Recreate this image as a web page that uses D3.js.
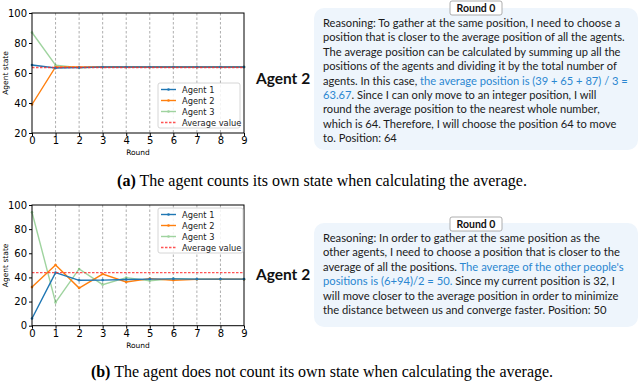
<!DOCTYPE html>
<html lang="en">
<head>
<meta charset="UTF-8">
<script src="https://d3js.org/d3.v7.min.js"></script>
<style>
  body { margin: 0; background: #fff; }
</style>
</head>
<body>
<svg id="svg" width="640" height="383" font-family="DejaVu Sans"></svg>
<script>
// ---- data ----
var rounds = [0, 1, 2, 3, 4, 5, 6, 7, 8, 9];

// (a) agent counts its own state
var topAgent1 = [65.3, 63.3, 63.6, 64, 64, 64, 64, 64, 64, 64];
var topAgent2 = [39, 64, 64, 64, 64, 64, 64, 64, 64, 64];
var topAgent3 = [87, 65.2, 63.5, 64, 64, 64, 64, 64, 64, 64];
var topAverage = 63.67;
var topYTicks = [20, 40, 60, 80, 100];

// (b) agent does not count its own state
var botAgent1 = [6, 44, 37.6, 37.8, 38.3, 38.6, 38.8, 38.6, 38.6, 38.6];
var botAgent2 = [32, 50.3, 31.2, 42.8, 36.2, 39, 37.7, 38.4, 38.5, 38.5];
var botAgent3 = [94, 19.3, 47, 34, 39.8, 37.2, 39, 38.5, 38.5, 38.5];
var botAverage = 44;
var botYTicks = [0, 20, 40, 60, 80, 100];

var agentNames = ["Agent 1", "Agent 2", "Agent 3"];
var agentColors = ["#1f77b4", "#ff7f0e", "#2ca02c"];
var agentOpacity = [1, 1, 0.45];

var topText = [
  [["Reasoning: To gather at the same position, I need to choose a", 0]],
  [["position that is closer to the average position of all the agents.", 0]],
  [["The average position can be calculated by summing up all the", 0]],
  [["positions of the agents and dividing it by the total number of", 0]],
  [["agents. In this case, ", 0], ["the average position is (39 + 65 + 87) / 3 =", 1]],
  [["63.67", 1], [". Since I can only move to an integer position, I will", 0]],
  [["round the average position to the nearest whole number,", 0]],
  [["which is 64. Therefore, I will choose the position 64 to move", 0]],
  [["to. Position: 64", 0]]
];
var botText = [
  [["Reasoning: In order to gather at the same position as the", 0]],
  [["other agents, I need to choose a position that is closer to the", 0]],
  [["average of all the positions. ", 0], ["The average of the other people's", 1]],
  [["positions is (6+94)/2 = 50.", 1], [" Since my current position is 32, I", 0]],
  [["will move closer to the average position in order to minimize", 0]],
  [["the distance between us and converge faster. Position: 50", 0]]
];

var svg = d3.select("#svg");

function drawChart(cfg) {
  var x = d3.scaleLinear().domain([0, 9]).range([32, 244]);
  var y = d3.scaleLinear().domain(cfg.yDomain).range([cfg.bottom, cfg.top]);
  var g = svg.append("g");

  // vertical dashed grid
  g.selectAll(".grid").data(rounds.slice(1, 9)).enter().append("line")
    .attr("x1", d => x(d)).attr("x2", d => x(d))
    .attr("y1", cfg.top).attr("y2", cfg.bottom)
    .attr("stroke", "#999").attr("stroke-width", 0.8)
    .attr("stroke-dasharray", "2.5,2");

  var series = [cfg.a1, cfg.a2, cfg.a3];
  var line = d3.line().x((d, i) => x(rounds[i])).y(d => y(d));

  [2, 1, 0].forEach(function (k) {
    var s = g.append("g").attr("opacity", agentOpacity[k]);
    s.append("path").datum(series[k])
      .attr("d", line).attr("fill", "none")
      .attr("stroke", agentColors[k]).attr("stroke-width", 1.4);
    s.selectAll("circle").data(series[k]).enter().append("circle")
      .attr("cx", (d, i) => x(rounds[i])).attr("cy", d => y(d))
      .attr("r", 1.3).attr("fill", agentColors[k]);
  });

  // average line, drawn over the agents
  g.append("line")
    .attr("x1", x(0)).attr("x2", x(9))
    .attr("y1", y(cfg.avg)).attr("y2", y(cfg.avg))
    .attr("stroke", "#ff2a2a").attr("stroke-width", 1.3)
    .attr("stroke-dasharray", "2.5,1.5").attr("opacity", 0.8);

  // frame
  g.append("rect").attr("x", 32).attr("y", cfg.top)
    .attr("width", 212).attr("height", cfg.bottom - cfg.top)
    .attr("fill", "none").attr("stroke", "#000").attr("stroke-width", 1);

  var xAxis = d3.axisBottom(x).tickValues(rounds).tickSize(3).tickPadding(1);
  g.append("g").attr("transform", "translate(0," + cfg.bottom + ")").call(xAxis)
    .call(a => a.select(".domain").remove())
    .selectAll("text").attr("font-size", 10).attr("fill", "#000")
    .attr("font-family", "DejaVu Sans");
  var yAxis = d3.axisLeft(y).tickValues(cfg.yTicks).tickSize(3).tickPadding(2);
  g.append("g").attr("transform", "translate(32,0)").call(yAxis)
    .call(a => a.select(".domain").remove())
    .selectAll("text").attr("font-size", 10).attr("fill", "#000")
    .attr("font-family", "DejaVu Sans");

  g.append("text").attr("x", 138).attr("y", cfg.bottom + 22)
    .attr("text-anchor", "middle").attr("font-size", 7.5).text("Round");
  g.append("text")
    .attr("transform", "translate(8," + ((cfg.top + cfg.bottom) / 2) + ") rotate(-90)")
    .attr("text-anchor", "middle").attr("font-size", 7.5).text("Agent state");

  // legend
  var lg = g.append("g").attr("transform", "translate(" + cfg.legX + "," + cfg.legY + ")");
  lg.append("rect").attr("x", 0).attr("y", 0).attr("width", cfg.legW).attr("height", 45)
    .attr("rx", 2).attr("fill", "#fff").attr("fill-opacity", 0.85)
    .attr("stroke", "#ccc").attr("stroke-width", 0.8);
  agentNames.concat(["Average value"]).forEach(function (name, i) {
    var yy = 6.5 + i * 11;
    if (i < 3) {
      var e = lg.append("g").attr("opacity", agentOpacity[i]);
      e.append("line").attr("x1", 3).attr("x2", 18).attr("y1", yy).attr("y2", yy)
        .attr("stroke", agentColors[i]).attr("stroke-width", 1.4);
      e.append("circle").attr("cx", 10.5).attr("cy", yy).attr("r", 1.3).attr("fill", agentColors[i]);
    } else {
      lg.append("line").attr("x1", 3).attr("x2", 18).attr("y1", yy).attr("y2", yy)
        .attr("stroke", "#ff2a2a").attr("stroke-width", 1.3)
        .attr("stroke-dasharray", "2.5,1.5").attr("opacity", 0.8);
    }
    lg.append("text").attr("x", 24).attr("y", yy + 3).attr("font-size", 8.3)
      .attr("fill", "#222").text(name);
  });
}

drawChart({ top: 13, bottom: 133, yDomain: [20, 100], yTicks: topYTicks,
  a1: topAgent1, a2: topAgent2, a3: topAgent3, avg: topAverage, legX: 158, legY: 83, legW: 82 });
drawChart({ top: 205, bottom: 325.7, yDomain: [0, 100], yTicks: botYTicks,
  a1: botAgent1, a2: botAgent2, a3: botAgent3, avg: botAverage, legX: 158, legY: 208, legW: 85 });

function drawBubble(lines, boxY, boxH, roundY, maxW) {
  svg.append("text").attr("x", 283).attr("y", boxY + boxH / 2 + 5)
    .attr("text-anchor", "middle").attr("font-family", "Lato").attr("font-weight", "bold")
    .attr("font-size", 15.5).attr("fill", "#111").text("Agent 2");
  svg.append("rect").attr("x", 314).attr("y", boxY).attr("width", 324).attr("height", boxH)
    .attr("rx", 10).attr("fill", "#eef5fc");
  svg.append("rect").attr("x", 450).attr("y", roundY).attr("width", 52).attr("height", 14)
    .attr("rx", 2).attr("fill", "#fff").attr("stroke", "#999").attr("stroke-width", 0.8);
  svg.append("text").attr("x", 476).attr("y", roundY + 11).attr("text-anchor", "middle")
    .attr("font-family", "Lato").attr("font-weight", "bold").attr("font-size", 10.5)
    .attr("fill", "#111").text("Round 0");
  var firstY = boxY + 19;
  var texts = [];
  lines.forEach(function (parts, i) {
    var t = svg.append("text").attr("x", 323).attr("y", firstY + i * 14.4)
      .attr("font-family", "Lato").attr("font-size", 13).attr("fill", "#1a1a1a");
    parts.forEach(function (p) {
      t.append("tspan").attr("fill", p[1] ? "#2b87d1" : "#1a1a1a").text(p[0]);
    });
    texts.push(t);
  });
  // pick the font size so the widest line fits the bubble like the reference
  var widest = d3.max(texts, t => t.node().getComputedTextLength());
  var fs = 13 * maxW / widest;
  texts.forEach(t => t.attr("font-size", fs));
}
drawBubble(topText, 8, 142, 1, 305);
drawBubble(botText, 223, 104, 217, 301);

function caption(letter, rest, y) {
  var t = svg.append("text").attr("x", 322).attr("y", y).attr("text-anchor", "middle")
    .attr("font-family", "Liberation Serif").attr("font-size", 16).attr("fill", "#000");
  t.append("tspan").attr("font-weight", "bold").text(letter);
  t.append("tspan").text(" " + rest);
}
caption("(a)", "The agent counts its own state when calculating the average.", 186);
caption("(b)", "The agent does not count its own state when calculating the average.", 377);
</script>
</body>
</html>
